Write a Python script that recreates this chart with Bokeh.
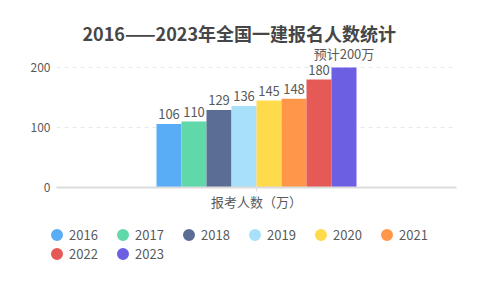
from bokeh.plotting import figure
from bokeh.layouts import column
from bokeh.models import (ColumnDataSource, FactorRange, Range1d, Legend, LegendItem,
                          SingleIntervalTicker, Title)
from bokeh.transform import dodge
from bokeh.core.properties import value
from bokeh.embed import file_html
from bokeh.resources import INLINE

# Data
category = "报考人数（万）"
years = ["2016", "2017", "2018", "2019", "2020", "2021", "2022", "2023"]
counts = [106, 110, 129, 136, 145, 148, 180, 200]
labels = ["106", "110", "129", "136", "145", "148", "180", "预计200万"]
colors = ["#58adf6", "#60d8aa", "#5b6d94", "#a8e0fa", "#ffda4b", "#ff9649",
          "#e55a57", "#6c5fe2"]

FONT = "Noto Sans CJK SC"
TEXT = "#5a5a5a"

p = figure(width=480, height=215, x_range=FactorRange(factors=[category], range_padding=0),
           y_range=Range1d(0, 235), output_backend="svg", toolbar_location=None,
           min_border_left=56, min_border_right=24, min_border_top=46,
           min_border_bottom=28)
p.outline_line_color = None
p.background_fill_color = "white"
p.border_fill_color = "white"

p.title = Title(text="2016——2023年全国一建报名人数统计", align="left",
                text_font=FONT, text_font_size="18px", text_font_style="bold",
                text_color="#464646", standoff=2, offset=26)

n = len(years)
bar_w = 1.0 / 16
for i, (yr, c, col, lab) in enumerate(zip(years, counts, colors, labels)):
    src = ColumnDataSource(dict(x=[category], y=[c], t=[lab]))
    off = (i - (n - 1) / 2) * bar_w
    p.vbar(x=dodge("x", off, range=p.x_range), top="y", width=bar_w, source=src,
           fill_color=col, line_color=None)
    p.text(x=dodge("x", off, range=p.x_range), y="y", text="t", source=src,
           text_align="center", text_baseline="bottom", y_offset=-5,
           text_font=value(FONT), text_font_size="13px", text_color=TEXT)

# Axes
p.yaxis.ticker = SingleIntervalTicker(interval=100)
p.yaxis.axis_line_color = None
p.yaxis.major_tick_line_color = None
p.yaxis.minor_tick_line_color = None
p.yaxis.major_tick_out = 0
p.yaxis.major_tick_in = 0
p.yaxis.minor_tick_out = 0
p.yaxis.major_label_standoff = 6
p.yaxis.major_label_text_font = FONT
p.yaxis.major_label_text_font_size = "12px"
p.yaxis.major_label_text_color = TEXT

p.xaxis.axis_line_color = "#dcdcdc"
p.xaxis.axis_line_width = 2
p.xaxis.major_tick_line_color = "#dcdcdc"
p.xaxis.major_tick_in = 0
p.xaxis.major_tick_out = 4
p.xaxis.major_label_standoff = 0
p.xaxis.major_label_text_font = FONT
p.xaxis.major_label_text_font_size = "13px"
p.xaxis.major_label_text_color = TEXT

p.xgrid.grid_line_color = None
p.ygrid.grid_line_color = "#e6e9f0"
p.ygrid.grid_line_dash = "4 4"
p.ygrid.ticker = SingleIntervalTicker(interval=100)

# Legend strip below the chart, with round swatches; nudged left so its
# drawing area covers the whole legend row
lg = figure(width=496, height=73, x_range=Range1d(0, 1), y_range=Range1d(0, 1),
            output_backend="svg", toolbar_location=None, min_border=0,
            x_axis_location=None, y_axis_location=None)
lg.margin = (0, 0, 0, -16)
lg.grid.visible = False
lg.outline_line_color = None
lg.border_fill_color = "white"

swatches = []
for yr, col in zip(years, colors):
    r = lg.scatter(x=[0.5], y=[-5], marker="circle", size=8, fill_color=col,
                   line_color=col, line_width=4.4)
    swatches.append(LegendItem(label=yr, renderers=[r]))

def make_legend(items, loc):
    return Legend(items=items, location=loc, orientation="horizontal",
                  glyph_width=19, glyph_height=19, label_standoff=3, label_width=44,
                  label_height=16, spacing=0, padding=0, margin=0,
                  border_line_color=None, background_fill_alpha=0,
                  label_text_font=FONT, label_text_font_size="13px",
                  label_text_color=TEXT)

lg.add_layout(make_legend(swatches[:6], (7, 44)), "center")
lg.add_layout(make_legend(swatches[6:], (7, 25)), "center")

layout = column(p, lg, spacing=0)
open("out.html", "w").write(file_html(layout, INLINE))
